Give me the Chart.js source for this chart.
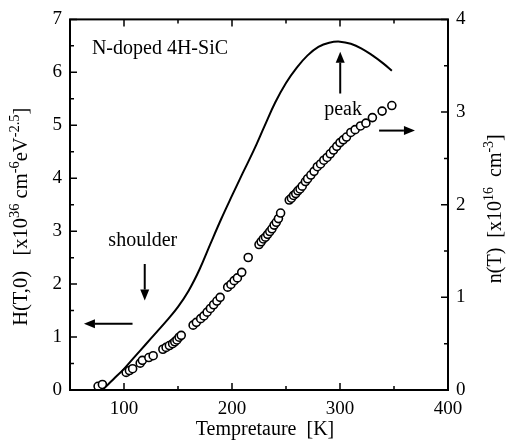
<!DOCTYPE html>
<html><head><meta charset="utf-8">
<script src="https://cdn.jsdelivr.net/npm/chart.js@4.4.0/dist/chart.umd.min.js"></script>
<style>html,body{margin:0;padding:0;background:#fff}#wrap{width:515px;height:441px}</style>
</head><body><div id="wrap"><canvas id="c" width="515" height="441"></canvas></div>
<script>
// ---- data ----
const curveT = [80,85,90,100,110,120,130,140,150,160,170,180,190,200,210,220,230,240,250,260,270,280,290,300,310,320,330,340,348];
const curveH = [0.0,0.1,0.2,0.4,0.63,0.86,1.09,1.32,1.57,1.88,2.28,2.76,3.23,3.67,4.1,4.52,4.98,5.43,5.8,6.09,6.32,6.48,6.56,6.58,6.54,6.45,6.32,6.17,6.03];
const nT = [76,80,102,105,108,115,117,123,127,136,139,142,145,147,149,151,153,164,167,171,174,177,180,183,186,189,196,199,202,205,209,215,225,227,229,231,233,235,237,239,241,243,245,253,255,257,259,261,263,265,268,270,273,276,279,282,285,288,291,294,297,300,303,306,310,314,319,324,330,339,348];
const nVal = [0.04,0.06,0.19,0.21,0.23,0.29,0.32,0.35,0.37,0.44,0.46,0.48,0.50,0.52,0.54,0.57,0.59,0.70,0.73,0.77,0.80,0.84,0.88,0.92,0.96,1.00,1.11,1.14,1.18,1.21,1.27,1.43,1.57,1.60,1.63,1.65,1.68,1.71,1.74,1.78,1.81,1.85,1.91,2.05,2.07,2.10,2.12,2.15,2.17,2.20,2.25,2.28,2.32,2.36,2.41,2.44,2.48,2.51,2.55,2.59,2.63,2.67,2.70,2.73,2.78,2.81,2.85,2.88,2.94,3.01,3.07];
const xTickLabels = [100,200,300,400];
const yTickLabels = [0,1,2,3,4,5,6,7];
const y2TickLabels = [0,1,2,3,4];

const FF = '"Liberation Serif", "Times New Roman", serif';
Chart.defaults.font.family = FF;
Chart.defaults.font.size = 19;
Chart.defaults.color = '#000';

function drawRich(ctx, segs, bx, cy, rot, size, supSize, supRaise) {
  ctx.save();
  ctx.translate(bx, cy);
  ctx.rotate(rot);
  let total = 0;
  segs.forEach(s => { ctx.font = (s.sup ? supSize : size) + 'px ' + FF; s.w = ctx.measureText(s.t).width; total += s.w; });
  let x = -total / 2;
  ctx.textBaseline = 'alphabetic';
  ctx.textAlign = 'left';
  ctx.fillStyle = '#000';
  segs.forEach(s => { ctx.font = (s.sup ? supSize : size) + 'px ' + FF; ctx.fillText(s.t, x, s.sup ? -supRaise : 0); x += s.w; });
  ctx.restore();
}
function arrow(ctx, x1, y1, x2, y2) {
  const ang = Math.atan2(y2 - y1, x2 - x1);
  const hl = 11, hw = 4.5;
  ctx.beginPath();
  ctx.moveTo(x1, y1);
  ctx.lineTo(x2 - hl * Math.cos(ang), y2 - hl * Math.sin(ang));
  ctx.lineWidth = 2;
  ctx.stroke();
  ctx.beginPath();
  ctx.moveTo(x2, y2);
  ctx.lineTo(x2 - hl * Math.cos(ang) + hw * Math.sin(ang), y2 - hl * Math.sin(ang) - hw * Math.cos(ang));
  ctx.lineTo(x2 - hl * Math.cos(ang) - hw * Math.sin(ang), y2 - hl * Math.sin(ang) + hw * Math.cos(ang));
  ctx.closePath();
  ctx.fill();
}

const decor = {
  id: 'decor',
  afterDraw(chart) {
    const ctx = chart.ctx;
    const {left, right, top, bottom} = chart.chartArea;
    const xs = chart.scales.x, yl = chart.scales.y, yr = chart.scales.y2;
    ctx.save();
    ctx.strokeStyle = '#000';
    ctx.fillStyle = '#000';
    ctx.lineWidth = 1.5;
    ctx.beginPath();
    for (let v = 100; v <= 400; v += 50) {
      const p = xs.getPixelForValue(v), len = v % 100 === 0 ? 7 : 4;
      ctx.moveTo(p, bottom); ctx.lineTo(p, bottom - len);
      ctx.moveTo(p, top); ctx.lineTo(p, top + len);
    }
    for (let v = 0; v <= 7; v += 0.5) {
      const p = yl.getPixelForValue(v), len = v % 1 === 0 ? 7 : 4;
      ctx.moveTo(left, p); ctx.lineTo(left + len, p);
    }
    for (let v = 0; v <= 4; v += 0.5) {
      const p = yr.getPixelForValue(v), len = v % 1 === 0 ? 7 : 4;
      ctx.moveTo(right, p); ctx.lineTo(right - len, p);
    }
    ctx.stroke();
    ctx.lineWidth = 2;
    ctx.strokeRect(left, top, right - left, bottom - top);

    // annotations
    ctx.font = '20px ' + FF;
    ctx.textBaseline = 'middle';
    ctx.textAlign = 'left';
    ctx.fillText('N-doped 4H-SiC', xs.getPixelForValue(70.3), yl.getPixelForValue(6.44));
    ctx.textAlign = 'center';
    ctx.fillText('shoulder', xs.getPixelForValue(117.4), yl.getPixelForValue(2.82));
    ctx.fillText('peak', xs.getPixelForValue(302.8), yl.getPixelForValue(5.29));
    arrow(ctx, xs.getPixelForValue(119.2), yl.getPixelForValue(2.38), xs.getPixelForValue(119.2), yl.getPixelForValue(1.69));
    arrow(ctx, xs.getPixelForValue(107.9), yl.getPixelForValue(1.25), xs.getPixelForValue(62.9), yl.getPixelForValue(1.25));
    arrow(ctx, xs.getPixelForValue(300.2), yl.getPixelForValue(5.60), xs.getPixelForValue(300.2), yl.getPixelForValue(6.39));
    arrow(ctx, xs.getPixelForValue(336.2), yl.getPixelForValue(4.90), xs.getPixelForValue(369.4), yl.getPixelForValue(4.90));

    // axis titles
    ctx.textAlign = 'center';
    ctx.textBaseline = 'middle';
    ctx.font = '20px ' + FF;
    ctx.fillText('Tempretaure  [K]', (left + right) / 2 + 6, 430);
    drawRich(ctx, [
      {t: 'H(T,0)   [x10'}, {t: '36', sup: true}, {t: ' cm'}, {t: '-6', sup: true}, {t: 'eV'}, {t: '-2.5', sup: true}, {t: ']'}
    ], left - 43, (top + bottom) / 2 + 12, -Math.PI / 2, 20.5, 14.5, 8);
    drawRich(ctx, [
      {t: 'n(T)  [x10'}, {t: '16', sup: true}, {t: '  cm'}, {t: '-3', sup: true}, {t: ']'}
    ], right + 53, (top + bottom) / 2 + 4, -Math.PI / 2, 20, 14, 8);
    ctx.restore();
  }
};

new Chart(document.getElementById('c'), {
  type: 'scatter',
  data: {
    datasets: [
      {
        label: 'H(T,0)',
        data: curveT.map((t, i) => ({x: t, y: curveH[i]})),
        showLine: true, borderColor: '#000', borderWidth: 2, pointRadius: 0,
        tension: 0.4, fill: false, yAxisID: 'y'
      },
      {
        label: 'n(T)',
        data: nT.map((t, i) => ({x: t, y: nVal[i]})),
        showLine: false, pointRadius: 4, pointBorderWidth: 1.6,
        pointBorderColor: '#000', pointBackgroundColor: '#fff', yAxisID: 'y2'
      }
    ]
  },
  options: {
    responsive: false, animation: false, devicePixelRatio: 1,
    layout: {padding: {top: 13, left: 0, right: 0, bottom: 0}},
    plugins: {legend: {display: false}, tooltip: {enabled: false}},
    scales: {
      x: {
        type: 'linear', position: 'bottom', min: 50, max: 400,
        grid: {display: false, drawTicks: false}, border: {display: false},
        ticks: {padding: 8, maxRotation: 0, autoSkip: false},
        afterBuildTicks: s => { s.ticks = xTickLabels.map(v => ({value: v})); },
        afterFit: s => { s.height = 51; }
      },
      y: {
        type: 'linear', position: 'left', min: 0, max: 7,
        grid: {display: false, drawTicks: false}, border: {display: false},
        ticks: {padding: 8, autoSkip: false},
        afterBuildTicks: s => { s.ticks = yTickLabels.map(v => ({value: v})); },
        afterFit: s => { s.width = 70; }
      },
      y2: {
        type: 'linear', position: 'right', min: 0, max: 4,
        grid: {display: false, drawTicks: false}, border: {display: false},
        ticks: {padding: 8, autoSkip: false},
        afterBuildTicks: s => { s.ticks = y2TickLabels.map(v => ({value: v})); },
        afterFit: s => { s.width = 67; }
      }
    }
  },
  plugins: [decor]
});
</script></body></html>
